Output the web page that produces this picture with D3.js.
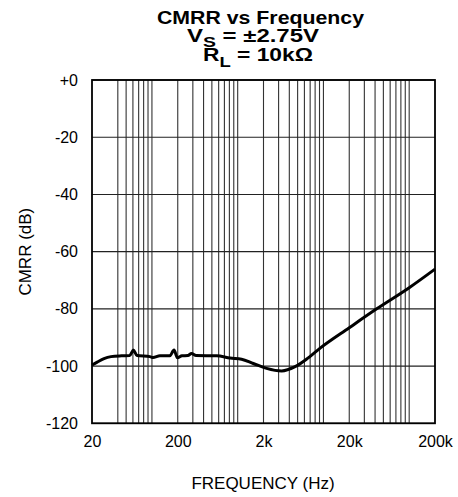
<!DOCTYPE html>
<html>
<head>
<meta charset="utf-8">
<script src="https://cdn.jsdelivr.net/npm/d3@7"></script>
<style>
  html, body { margin: 0; padding: 0; background: #fff; }
  svg { display: block; font-family: "Liberation Sans", Arial, Helvetica, sans-serif; }
</style>
</head>
<body>
<svg id="chart" width="458" height="497"></svg>
<script>
// ---- data ----
const freqHz = [20, 23, 27.6, 33.3, 44, 55, 60.8, 67, 95, 103, 124, 162, 181, 198, 224, 263, 289, 327,
                570, 814, 1110, 1520, 2170, 3260, 4670, 6330, 9080, 20000, 41800, 100000, 200000];
const cmrrDb = [-99.6, -98.6, -97.4, -96.7, -96.4, -96.3, -94.4, -96.3, -96.7, -97.0, -96.4, -96.4, -94.4, -97.1, -96.4, -96.3, -95.6, -96.3,
                -96.4, -97.2, -97.6, -99.1, -100.8, -101.7, -100.2, -97.6, -93.8, -86.6, -80.0, -72.6, -66.1];

const yTickValues = [0, -20, -40, -60, -80, -100, -120];
const yTickLabels = ["+0", "-20", "-40", "-60", "-80", "-100", "-120"];
const xTickValues = [20, 200, 2000, 20000, 200000];
const xTickLabels = ["20", "200", "2k", "20k", "200k"];
const xGridValues = [40, 50, 60, 70, 80, 90, 100,
                     200, 300, 400, 500, 600, 700, 800, 900, 1000,
                     2000, 3000, 4000, 5000, 6000, 7000, 8000, 9000, 10000,
                     20000, 30000, 40000, 50000, 60000, 70000, 80000, 90000, 100000];

// ---- layout ----
const L = 92, R = 435, T = 80, B = 423.3;
const svg = d3.select("#chart");
const x = d3.scaleLog().domain([20, 200000]).range([L, R]);
const y = d3.scaleLinear().domain([-120, 0]).range([B, T]);

// grid
svg.append("g").selectAll("line").data(xGridValues).join("line")
  .attr("x1", d => x(d)).attr("x2", d => x(d))
  .attr("y1", T).attr("y2", B)
  .attr("stroke", "#333").attr("stroke-width", 1.1);
svg.append("g").selectAll("line").data(yTickValues).join("line")
  .attr("x1", L).attr("x2", R)
  .attr("y1", d => y(d)).attr("y2", d => y(d))
  .attr("stroke", "#222").attr("stroke-width", 1.1);

// frame
svg.append("rect").attr("x", L).attr("y", T).attr("width", R - L).attr("height", B - T)
  .attr("fill", "none").attr("stroke", "#000").attr("stroke-width", 1.8);

// axes (labels only)
const yAxis = d3.axisLeft(y).tickValues(yTickValues)
  .tickFormat((d, i) => yTickLabels[i]).tickSize(0).tickPadding(14);
const gy = svg.append("g").attr("transform", `translate(${L},0)`).call(yAxis);
gy.select(".domain").remove();
gy.selectAll("text").attr("font-size", 16).attr("fill", "#000")
  .attr("font-family", "'Liberation Sans', Arial, sans-serif");

const xAxis = d3.axisBottom(x).tickValues(xTickValues)
  .tickFormat((d, i) => xTickLabels[i]).tickSize(0).tickPadding(12);
const gx = svg.append("g").attr("transform", `translate(0,${B})`).call(xAxis);
gx.select(".domain").remove();
gx.selectAll("text").attr("font-size", 16).attr("fill", "#000")
  .attr("font-family", "'Liberation Sans', Arial, sans-serif");

// curve
const pts = freqHz.map((f, i) => [f, cmrrDb[i]]);
svg.append("path").datum(pts)
  .attr("d", d3.line().x(d => x(d[0])).y(d => y(d[1])).curve(d3.curveMonotoneX))
  .attr("fill", "none").attr("stroke", "#000").attr("stroke-width", 3)
  .attr("stroke-linejoin", "round");

// axis titles
svg.append("text").attr("x", 263).attr("y", 489).attr("text-anchor", "middle")
  .attr("font-size", 17).text("FREQUENCY (Hz)");
svg.append("text").attr("transform", `translate(31,${(T + B) / 2}) rotate(-90)`)
  .attr("text-anchor", "middle").attr("font-size", 17).text("CMRR (dB)");

// title
const title = svg.append("g").attr("font-weight", "bold");
title.append("text").attr("x", 157).attr("y", 24).attr("font-size", 18.5)
  .attr("textLength", 207).attr("lengthAdjust", "spacingAndGlyphs").text("CMRR vs Frequency");
const t2 = title.append("text").attr("x", 187).attr("y", 42).attr("font-size", 18.5)
  .attr("textLength", 132).attr("lengthAdjust", "spacingAndGlyphs");
t2.append("tspan").text("V");
t2.append("tspan").attr("dy", 5).attr("font-size", 15).text("S");
t2.append("tspan").attr("dy", -5).text(" = ±2.75V");
const t3 = title.append("text").attr("x", 203).attr("y", 61).attr("font-size", 18.5)
  .attr("textLength", 110).attr("lengthAdjust", "spacingAndGlyphs");
t3.append("tspan").text("R");
t3.append("tspan").attr("dy", 6).attr("font-size", 15).text("L");
t3.append("tspan").attr("dy", -6).text(" = 10kΩ");
</script>
</body>
</html>
